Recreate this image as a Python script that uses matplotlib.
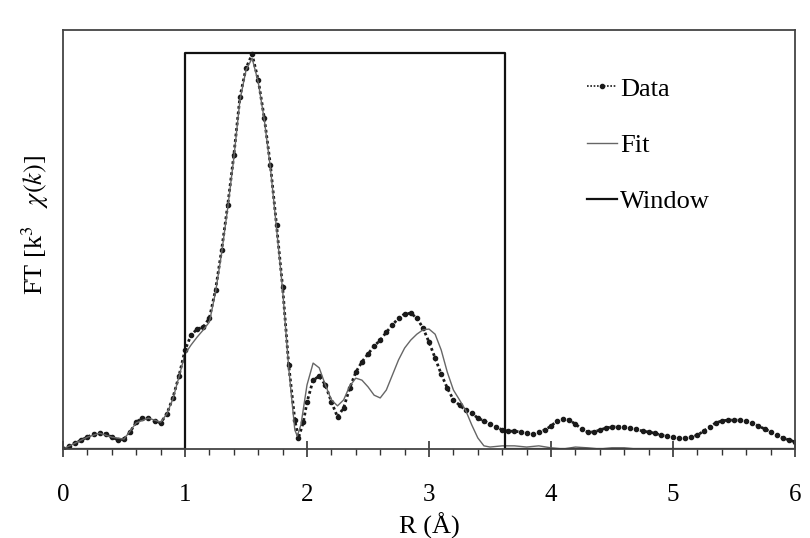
import matplotlib.pyplot as plt
from matplotlib.ticker import MultipleLocator

plt.rcParams['font.family'] = ['Liberation Serif', 'DejaVu Serif']
plt.rcParams['mathtext.fontset'] = 'stix'

# R values (Angstrom) and FT magnitudes, window height = 1
r_data = [0.00, 0.05, 0.10, 0.15, 0.20, 0.25, 0.30, 0.35, 0.40, 0.45,
          0.50, 0.55, 0.60, 0.65, 0.70, 0.75, 0.80, 0.85, 0.90, 0.95,
          1.00, 1.05, 1.10, 1.15, 1.20, 1.25, 1.30, 1.35, 1.40, 1.45,
          1.50, 1.55, 1.60, 1.65, 1.70, 1.75, 1.80, 1.85, 1.90, 1.93,
          1.97, 2.00, 2.05, 2.10, 2.15, 2.20, 2.25, 2.30, 2.35, 2.40,
          2.45, 2.50, 2.55, 2.60, 2.65, 2.70, 2.75, 2.80, 2.85, 2.90,
          2.95, 3.00, 3.05, 3.10, 3.15, 3.20, 3.25, 3.30, 3.35, 3.40,
          3.45, 3.50, 3.55, 3.60, 3.65, 3.70, 3.75, 3.80, 3.85, 3.90,
          3.95, 4.00, 4.05, 4.10, 4.15, 4.20, 4.25, 4.30, 4.35, 4.40,
          4.45, 4.50, 4.55, 4.60, 4.65, 4.70, 4.75, 4.80, 4.85, 4.90,
          4.95, 5.00, 5.05, 5.10, 5.15, 5.20, 5.25, 5.30, 5.35, 5.40,
          5.45, 5.50, 5.55, 5.60, 5.65, 5.70, 5.75, 5.80, 5.85, 5.90,
          5.95, 6.00]
ft_data = [0.000, 0.008, 0.015, 0.023, 0.030, 0.038, 0.040, 0.038, 0.030, 0.023,
           0.025, 0.043, 0.068, 0.078, 0.078, 0.071, 0.066, 0.088, 0.129, 0.184,
           0.250, 0.288, 0.303, 0.308, 0.331, 0.402, 0.503, 0.616, 0.742, 0.889,
           0.962, 0.997, 0.932, 0.836, 0.717, 0.566, 0.409, 0.212, 0.073, 0.028,
           0.068, 0.119, 0.174, 0.184, 0.162, 0.119, 0.081, 0.104, 0.154, 0.194,
           0.220, 0.240, 0.260, 0.275, 0.295, 0.313, 0.331, 0.341, 0.343, 0.331,
           0.306, 0.270, 0.230, 0.189, 0.154, 0.124, 0.111, 0.098, 0.091, 0.078,
           0.071, 0.063, 0.056, 0.048, 0.045, 0.045, 0.043, 0.040, 0.038, 0.043,
           0.048, 0.058, 0.071, 0.076, 0.073, 0.063, 0.051, 0.043, 0.043, 0.048,
           0.053, 0.056, 0.056, 0.056, 0.053, 0.051, 0.045, 0.043, 0.040, 0.035,
           0.033, 0.030, 0.028, 0.028, 0.030, 0.035, 0.045, 0.056, 0.066, 0.071,
           0.073, 0.073, 0.073, 0.071, 0.066, 0.058, 0.051, 0.043, 0.035, 0.028,
           0.023, 0.018]

r_fit = [0.00, 0.10, 0.20, 0.30, 0.40, 0.50, 0.60, 0.70, 0.80, 0.85,
         0.90, 0.95, 1.00, 1.05, 1.10, 1.15, 1.20, 1.25, 1.30, 1.35,
         1.40, 1.45, 1.50, 1.55, 1.60, 1.65, 1.70, 1.75, 1.80, 1.85,
         1.90, 1.92, 1.95, 2.00, 2.05, 2.10, 2.15, 2.20, 2.25, 2.30,
         2.35, 2.40, 2.45, 2.50, 2.55, 2.60, 2.65, 2.70, 2.75, 2.80,
         2.85, 2.90, 2.95, 3.00, 3.05, 3.10, 3.15, 3.20, 3.25, 3.30,
         3.35, 3.40, 3.45, 3.50, 3.60, 3.70, 3.80, 3.90, 4.00, 4.10,
         4.20, 4.30, 4.40, 4.50, 4.60, 4.70, 6.00]
ft_fit = [0.000, 0.015, 0.030, 0.040, 0.030, 0.025, 0.066, 0.078, 0.068, 0.088,
          0.126, 0.182, 0.240, 0.263, 0.283, 0.301, 0.321, 0.396, 0.495, 0.609,
          0.735, 0.881, 0.957, 0.987, 0.927, 0.831, 0.710, 0.558, 0.402, 0.205,
          0.048, 0.033, 0.061, 0.162, 0.217, 0.205, 0.162, 0.124, 0.109, 0.124,
          0.159, 0.179, 0.174, 0.157, 0.136, 0.129, 0.149, 0.187, 0.225, 0.255,
          0.275, 0.290, 0.301, 0.303, 0.290, 0.250, 0.194, 0.149, 0.124, 0.098,
          0.061, 0.028, 0.008, 0.005, 0.008, 0.008, 0.005, 0.008, 0.003, 0.000,
          0.005, 0.003, 0.000, 0.003, 0.003, 0.000, 0.000]

r_win = [0.0, 1.0, 1.0, 3.62, 3.62, 6.0]
win = [0.0, 0.0, 1.0, 1.0, 0.0, 0.0]

fig = plt.figure(figsize=(8.1, 5.38), dpi=100)
ax = fig.add_axes([0.0778, 0.1654, 0.9037, 0.7786])

ax.plot(r_data, ft_data, color='#1a1a1a', linestyle=(0, (1, 1)), linewidth=2.0,
        marker='o', markersize=3.0, label='Data')
ax.plot(r_fit, ft_fit, color='#666666', linewidth=1.0, label='Fit')
ax.plot(r_win, win, color='#111111', linewidth=1.6, label='Window')

ax.set_xlim(0, 6)
ax.set_ylim(0, 1.058)
ax.set_yticks([])
ax.xaxis.set_major_locator(MultipleLocator(1))
ax.xaxis.set_minor_locator(MultipleLocator(0.2))
ax.tick_params(axis='x', which='major', direction='inout', length=12,
               width=1.2, labelsize=18, pad=19, color='#333333')
ax.tick_params(axis='x', which='minor', direction='out', length=4,
               width=1.0, color='#333333')
for s in ax.spines.values():
    s.set_linewidth(1.3)
    s.set_color('#444444')

ax.set_xlabel('R (Å)', fontsize=19, labelpad=5)
ax.set_ylabel('FT [k$^3$   $\\chi(k)$]', fontsize=19)
ax.yaxis.set_label_coords(-0.016, 0.535)

leg = ax.legend(loc='upper left', bbox_to_anchor=(0.716, 0.888), frameon=False,
                fontsize=19, handlelength=1.15, handletextpad=0.1,
                labelspacing=1.25, borderpad=0, borderaxespad=0)
leg.get_lines()[0].set_linewidth(1.2)

fig.savefig('out.png', dpi=100)
